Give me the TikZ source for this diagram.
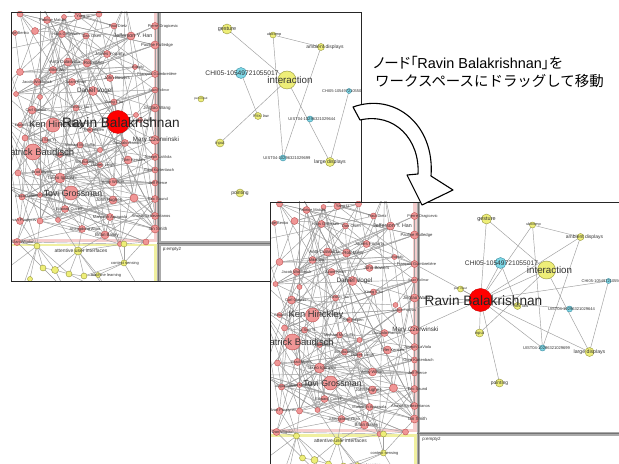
\documentclass[tikz,border=0pt]{standalone}
\usepackage{fontspec}
\setmainfont{Liberation Sans}
\newfontfamily\jpfont{Noto Sans CJK JP}
\newfontfamily\jpprop[RawFeature=+palt]{Noto Sans CJK JP}

\definecolor{edgegray}{RGB}{158,158,158}
\definecolor{authorfill}{RGB}{240,150,150}
\definecolor{authordraw}{RGB}{190,80,80}
\definecolor{keyfill}{RGB}{238,238,120}
\definecolor{keydraw}{RGB}{150,150,60}
\definecolor{docfill}{RGB}{125,215,230}
\definecolor{docdraw}{RGB}{60,140,160}
\definecolor{clusterpink}{RGB}{245,205,205}
\definecolor{clusteryellow}{RGB}{240,240,160}
\definecolor{splitgray}{RGB}{170,170,170}

\tikzset{
  edge/.style={draw=edgegray, line width=0.45bp},
  author/.style={circle, fill=authorfill, draw=authordraw, line width=0.4bp, inner sep=0pt},
  keyword/.style={circle, fill=keyfill, draw=keydraw, line width=0.4bp, inner sep=0pt},
  paper/.style={circle, fill=docfill, draw=docdraw, line width=0.4bp, inner sep=0pt},
  hub/.style={circle, fill=red, draw=red!80!black, line width=0.4bp, inner sep=0pt, minimum size=23bp},
  tag/.style={inner sep=0pt, text=black!80, font=\fontsize{#1}{#1}\selectfont},
  tag/.default=4,
  caption/.style={inner sep=0pt, text=black, font=\fontsize{14.5}{17}\selectfont},
  dragarrow/.style={fill=white, draw=black, line width=1.1bp, line join=round},
}

% author cluster: index/x/y/diameter
\newcommand\authorlist{1/20/14/6, 2/47/20/7, 3/64/17/5, 4/78/16/7, 5/99/14/6, 6/114/26/6,
7/131/36/8, 8/155/26/7, 9/35/31/7, 10/15/33/5, 11/62/34/7, 12/86/36/6, 13/155/45/8,
14/107/54/7, 15/68/62/8, 16/87/63/8, 17/135/67/5, 18/155/74/7, 19/20/72/7, 20/53/70/7,
21/110/78/7, 22/37/82/7, 23/72/82/7, 24/93/91/9, 25/155/90/6, 26/16/94/5, 27/40/97/5,
28/114/102/6, 29/155/108/8, 30/32/110/8, 31/76/108/6, 32/136/115/5, 33/53/125/14,
34/20/125/5, 35/90/130/5, 36/140/120/5, 37/25/138/6, 38/45/140/6, 39/80/145/6, 40/100/150/5,
41/125/143/7, 42/155/140/9, 43/33/152/16, 44/60/155/5, 45/85/162/6, 46/128/160/8,
47/155/157/7, 48/18/173/6, 49/38/172/7, 50/60/178/10, 51/100/165/5, 52/155/170/6,
53/113/182/8, 54/155/183/6, 55/22/197/6, 56/71/193/14, 57/40/195/5, 58/113/200/8,
59/134/198/8, 60/155/199/7, 61/65/209/7, 62/20/221/7, 63/40/221/6, 64/58/220/5,
65/110/217/7, 66/155/216/7, 67/82/229/7, 68/105/235/8, 69/155/229/8, 70/17/242/7,
71/146/242/6, 72/120/244/5, 73/3/50/5, 74/2/118/5, 75/4/185/5, 76/0/90/5, 77/40/2/5, 78/125/3/5}

% author names: index/text/size/offset
\newcommand\authortags{2/Fabrice Matulic/4/6, 4/Yang Li/4/5, 6/Paul Dietz/4/4,
7/Jefferson Y. Han/5.3/2, 8/Pierre Dragicevic/4/8, 10/Hrvoje Benko/4/2, 11/Hans Gellersen/4/4,
12/Dan Olsen/4/6, 13/Pauline Rutledge/4.2/2, 14/James Fogarty/4.5/3, 15/Antti Oulasvirta/4.5/-3,
16/Rob Miller/4.5/7, 17/Rodolfo/3.5/3, 18/François Guimbretière/4/2, 20/Mike Wu/4/4,
21/John Bowers/4.5/7, 22/Jacob Wobbrock/4/0, 23/Azam Khan/4/4, 24/Daniel Vogel/6.4/2,
25/Sean Follmer/3.5/4, 28/Xiang Cao/4/0, 29/Jingtao Wang/4.5/2, 30/Carl Gutwin/4/4,
31/Desney Tan/3.5/4, 33/Ken Hinckley/9.4/3.5, 34/Edward Lank/3.5/5, 35/Kori Inkpen/4/4,
36/Clifton Forlines/3.5/5, 38/Ji Soo Yi/4/3, 39/Michael McGuffin/4/0, 41/Gonzalo Ramos/4/2,
42/Mary Czerwinski/6.3/1, 43/Patrick Baudisch/9.5/6, 44/Jian Zhao/3.5/3, 45/Bill Buxton/4/0,
46/Tyler Kersten/4/5, 47/Joseph LaViola/4/3, 49/Brad Myers/4/4, 50/Takeo Igarashi/4.5/2,
51/Darren Leigh/4/3, 52/Gord Kurtenbach/4/4, 53/Andy Wilson/4/0, 54/Jeff Pierce/4/3,
55/Abigail Sellen/3.5/4, 56/Tovi Grossman/8.8/2, 57/Scott Klemmer/3.5/2, 58/John Hughes/4.5/-4,
60/Eric Saund/4/3, 61/Edward Cutrell/4/4, 62/Ivan Poupyrev/4/4, 65/Maneesh Agrawala/4/0,
66/Anastasia Bezerianos/4/-4, 67/Shengdong Zhao/4/3, 68/Brian Bailey/4.5/2, 69/Ian Smith/4.5/3,
70/Dan Wigdor/4/6}

% topic cluster below the authors
\newcommand\topiclist{1/37/246/6, 2/78/251/8, 3/124/263/6, 4/124/244/6, 5/43/268/6,
6/55/270/7, 7/69/274/6, 8/84/276/6, 9/98/275/5, 10/30/279/5}
\newcommand\topicstray{11/65/290, 12/20/295, 13/110/295, 14/140/290, 15/5/270}
\newcommand\topiclinks{1/5, 1/6, 1/10, 1/12, 1/7, 1/15, 2/6, 2/7, 2/8, 2/9, 2/13, 3/8, 3/9,
3/14, 4/2, 4/3, 5/6, 6/7, 7/8, 8/9, 5/11, 6/11, 9/13, 10/12, 7/13}
\newcommand\topictags{2/attentive user interfaces/5/3, 3/context sensing/4/1, 9/machine learning/4/8}
\newcommand\crosslinks{70/1, 70/5, 62/1, 67/2, 68/2, 71/4, 72/4, 64/2, 63/1, 69/3, 65/3, 55/1}

% workspace: name/x/y/diameter/text/size/offset
\newcommand\keywordlist{gesture/227/29/10/gesture/5.5/0, ubicomp/273/35/6/ubicomp/3.8/1,
ambient/321/47/7/ambient displays/5/4, interaction/287/80/18/interaction/9.8/3,
pen/201/99/6/pen input/3.2/0, fitts/258/116/7/Fitts' law/4/3, input/220/143/8/input/4.2/0,
large/330/162/9/large displays/5.2/0, pointing/240/193/8/pointing/5/0}
\newcommand\paperlist{chia/241/73/11/CHI05-10549721055017/6.7/1,
chib/349/91/5/CHI05-10549721055017/4/-5, uista/310/119/6/UIST04-10296321029644/4.1/2,
uistb/283/158/6/UIST04-10296321029699/4.1/4}
\newcommand\worklinks{gesture/interaction, ubicomp/ambient, ubicomp/uistb, ambient/uistb,
chia/fitts, interaction/input, interaction/large, chib/large}
\newcommand\ravinhome{24,28,21,14,17,29,32,36,41,42,46,35,33,53,59,58,31,16,12,40,51}
\newcommand\ravinwork{gesture,ubicomp,ambient,chia,interaction,chib,pen,fitts,uista,input,uistb,large,pointing}

% one screen of the graph viewer; #1 name prefix, #2 = 1 hub in cluster, 2 hub in workspace
\newcommand\graphview[2]{%
  \fill[white] (11,12) rectangle (361,281);
  \begin{scope}
    \clip (11,12) rectangle (361,281);
    % region borders and splitters
    \fill[clusterpink] (153.5,12) rectangle (157,242);
    \fill[clusterpink] (11,239) rectangle (157,242);
    \fill[clusteryellow] (11,244) rectangle (157,246.5);
    \fill[clusteryellow] (154,244) rectangle (157,281);
    \fill[splitgray] (157,12) rectangle (160.5,281);
    \fill[splitgray] (157,241.5) rectangle (361,246);
    \draw[black!55, line width=0.5bp] (158.7,12) -- (158.7,281);
    \draw[black!55, line width=0.5bp] (157,243.7) -- (361,243.7);
    \node[tag=4.5] (#1empty) at (172,249) {p:empty2};
    % positions
    \foreach \i/\x/\y/\d in \authorlist {\coordinate (#1c\i) at (\x,\y);}
    \foreach \i/\x/\y/\d in \topiclist {\coordinate (#1t\i) at (\x,\y);}
    \foreach \i/\x/\y in \topicstray {\coordinate (#1t\i) at (\x,\y);}
    \foreach \n/\x/\y/\d/\t/\s/\dx in \keywordlist {\coordinate (#1k\n) at (\x,\y);}
    \foreach \n/\x/\y/\d/\t/\s/\dx in \paperlist {\coordinate (#1k\n) at (\x,\y);}
    \ifnum#2=1 \coordinate (#1rb) at (118,122); \else \coordinate (#1rb) at (221,110); \fi
    % co-author links
    \pgfmathsetseed{4242}
    \foreach \k in {1,...,170}{%
      \pgfmathtruncatemacro\ea{random(1,78)}%
      \pgfmathtruncatemacro\eb{mod(\ea+random(0,13),78)+1}%
      \draw[edge] (#1c\ea) -- (#1c\eb);}
    \foreach \k in {1,...,60}{%
      \pgfmathtruncatemacro\ea{random(1,78)}%
      \pgfmathtruncatemacro\eb{random(1,78)}%
      \draw[edge] (#1c\ea) -- (#1c\eb);}
    \foreach \a/\b in \topiclinks {\draw[edge] (#1t\a) -- (#1t\b);}
    \foreach \a/\b in \crosslinks {\draw[edge] (#1c\a) -- (#1t\b);}
    \foreach \a/\b in \worklinks {\draw[edge] (#1k\a) -- (#1k\b);}
    \ifnum#2=1
      \foreach \j in \ravinhome {\draw[edge] (#1rb) -- (#1c\j);}
    \else
      \foreach \n in \ravinwork {\draw[edge] (#1rb) -- (#1k\n);}
      \foreach \j in {29,42,36,18} {\draw[edge] (#1rb) -- (#1c\j);}
    \fi
    % vertices
    \foreach \i/\x/\y/\d in \authorlist {\node[author, minimum size=\d bp] (#1a\i) at (#1c\i) {};}
    \foreach \i/\x/\y/\d in \topiclist {\node[keyword, minimum size=\d bp] (#1y\i) at (#1t\i) {};}
    \foreach \n/\x/\y/\d/\t/\s/\dx in \keywordlist {%
      \node[keyword, minimum size=\d bp] (#1kn\n) at (#1k\n) {};}
    \foreach \n/\x/\y/\d/\t/\s/\dx in \paperlist {%
      \node[paper, minimum size=\d bp] (#1kn\n) at (#1k\n) {};}
    \node[hub] (#1ravin) at (#1rb) {};
    % names
    \foreach \i/\t/\s/\dx in \authortags {\node[tag=\s] (#1al\i) at ([xshift=\dx bp]#1c\i) {\t};}
    \foreach \i/\t/\s/\dx in \topictags {\node[tag=\s] (#1yl\i) at ([xshift=\dx bp]#1t\i) {\t};}
    \foreach \n/\x/\y/\d/\t/\s/\dx in \keywordlist {%
      \node[tag=\s] (#1kl\n) at ([xshift=\dx bp]#1k\n) {\t};}
    \foreach \n/\x/\y/\d/\t/\s/\dx in \paperlist {%
      \node[tag=\s] (#1pl\n) at ([xshift=\dx bp]#1k\n) {\t};}
    \node[tag=13.7, text=black!85] (#1ravinl) at ([xshift=3bp, yshift=-1bp]#1rb) {Ravin Balakrishnan};
  \end{scope}
  \draw[black!85, line width=0.8bp] (11,12) rectangle (361,281);
}

\begin{document}
\begin{tikzpicture}[x=1bp,y=-1bp]
  \useasboundingbox (0,0) rectangle (619,464);
  \fill[white] (0,0) rectangle (619,464);

  % before: the hub sits inside the author cluster
  \graphview{a}{1}

  % caption
  \node[caption, anchor=base west] (capa) at (373,69)
    {{\jpprop ノード「}Ravin Balakrishnan{\jpprop 」を}};
  \node[caption, anchor=base west] (capb) at (375,87)
    {\jpfont ワークスペースにドラッグして移動};

  % after: the hub dragged onto the workspace
  \begin{scope}[shift={(259.5,190)}]
    \graphview{b}{2}
  \end{scope}

  % curved drag arrow
  \draw[dragarrow] (353,107) .. controls (395,92) and (435,125) .. (431,176)
    -- (453,190) -- (422,205) -- (407,175) -- (418,174)
    .. controls (420,140) and (395,112) .. (360,120) -- cycle;
\end{tikzpicture}
\end{document}
